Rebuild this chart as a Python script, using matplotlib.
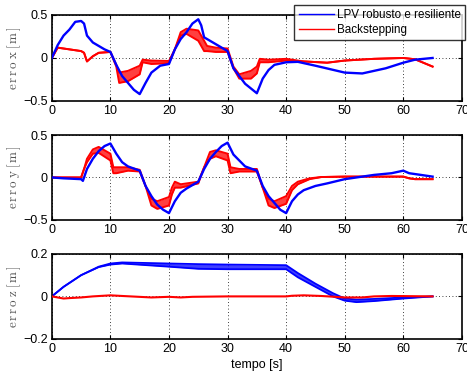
import matplotlib
matplotlib.use("Agg")
import matplotlib.pyplot as plt
import numpy as np

plt.rcParams['font.family'] = ['Liberation Sans', 'DejaVu Sans']
plt.rcParams['mathtext.fontset'] = 'cm'

# erro x
t_bx = [0, 1, 2, 3, 4, 5, 5.5, 6, 7, 8, 9, 10, 11, 12, 13, 14, 15, 16, 17, 18.5, 20,
        21, 22, 23, 24, 25, 25.5, 26, 27, 28, 30, 31, 33, 35, 36, 37, 38, 40, 42, 45,
        50, 53, 57, 60, 62, 65]
bx = [0, 0.15, 0.26, 0.33, 0.42, 0.43, 0.40, 0.26, 0.18, 0.14, 0.10, 0.07, -0.08, -0.21,
      -0.29, -0.37, -0.42, -0.29, -0.17, -0.09, -0.07, 0.10, 0.22, 0.30, 0.40, 0.45, 0.38,
      0.24, 0.20, 0.16, 0.08, -0.12, -0.30, -0.41, -0.24, -0.14, -0.08, -0.05, -0.045,
      -0.09, -0.17, -0.18, -0.12, -0.055, -0.02, 0.0]

t_rx = [0, 1, 3, 5, 5.5, 6, 7, 8, 10, 11, 11.5, 13, 15, 15.5, 17, 20, 21, 22, 23, 25,
        26, 26.5, 28, 30, 31, 32, 34, 35, 35.5, 37, 40, 43, 47, 50, 55, 60, 62, 65]
rx_hi = [0, 0.12, 0.10, 0.08, 0.06, -0.04, 0.02, 0.06, 0.07, -0.08, -0.17, -0.15, -0.09,
         -0.02, -0.03, -0.035, 0.10, 0.30, 0.34, 0.32, 0.20, 0.14, 0.12, 0.11, -0.10,
         -0.19, -0.15, -0.10, -0.01, -0.02, -0.01, -0.04, -0.055, -0.03, -0.01, 0.0,
         -0.015, -0.10]
rx_lo = [0, 0.12, 0.10, 0.08, 0.06, -0.04, 0.02, 0.06, 0.07, -0.10, -0.29, -0.27, -0.19,
         -0.05, -0.07, -0.06, 0.10, 0.26, 0.28, 0.20, 0.08, 0.08, 0.07, 0.07, -0.12,
         -0.24, -0.24, -0.18, -0.05, -0.05, -0.03, -0.04, -0.055, -0.03, -0.01, 0.0,
         -0.015, -0.10]

# erro y
t_by = [0, 2, 5, 5.3, 6, 7, 8, 9, 10, 11, 12, 13, 15, 16, 17, 18, 19, 20, 21, 22, 23, 25,
        26, 27, 28, 29, 30, 31, 32, 33, 35, 36, 37, 38, 39, 40, 41, 42, 43, 45, 47, 50,
        55, 58, 60, 61, 63, 65]
by = [0, -0.01, -0.02, -0.04, 0.10, 0.22, 0.31, 0.37, 0.40, 0.28, 0.18, 0.13, 0.08,
      -0.10, -0.22, -0.32, -0.38, -0.42, -0.28, -0.18, -0.13, -0.05, 0.10, 0.22, 0.30,
      0.37, 0.41, 0.27, 0.20, 0.13, 0.08, -0.10, -0.22, -0.30, -0.38, -0.42, -0.28,
      -0.20, -0.15, -0.10, -0.07, -0.02, 0.03, 0.05, 0.08, 0.05, 0.03, 0.01]

t_ry = [0, 5, 5.5, 6, 7, 8, 10, 10.5, 11, 13, 15, 16, 17, 18, 20, 20.5, 21, 22, 25,
        26, 27, 28, 30, 30.5, 32, 35, 36, 37, 38, 40, 41, 42, 44, 46, 50, 55, 60, 61,
        62, 65]
ry_hi = [0, 0, 0.10, 0.22, 0.33, 0.36, 0.28, 0.12, 0.12, 0.12, 0.09, -0.10, -0.25,
         -0.28, -0.23, -0.12, -0.05, -0.08, -0.05, 0.12, 0.30, 0.32, 0.28, 0.12, 0.10,
         0.10, -0.12, -0.25, -0.28, -0.22, -0.10, -0.05, -0.01, 0.005, 0.01, 0.01, 0.01,
         -0.01, -0.02, -0.02]
ry_lo = [0, 0, 0.10, 0.18, 0.28, 0.29, 0.20, 0.05, 0.05, 0.08, 0.07, -0.10, -0.33,
         -0.37, -0.33, -0.20, -0.12, -0.12, -0.07, 0.12, 0.22, 0.25, 0.20, 0.05, 0.07,
         0.07, -0.12, -0.33, -0.36, -0.31, -0.15, -0.08, -0.02, 0.005, 0.01, 0.01, 0.01,
         -0.01, -0.02, -0.02]

# erro z
t_bz = [0, 2, 5, 8, 10, 12, 20, 25, 30, 40, 42, 45, 48, 50, 52, 55, 60, 65]
bz_hi = [0, 0.045, 0.10, 0.14, 0.155, 0.16, 0.155, 0.152, 0.15, 0.147, 0.11, 0.06,
         0.015, -0.01, -0.015, -0.012, -0.005, 0.0]
bz_lo = [0, 0.045, 0.10, 0.138, 0.15, 0.155, 0.14, 0.13, 0.128, 0.128, 0.09, 0.045,
         0.0, -0.02, -0.027, -0.022, -0.01, 0.0]

t_rz = [0, 2, 3, 5, 7, 10, 12, 17, 20, 22, 24, 30, 40, 41, 43, 46, 50, 53, 55, 58, 65]
rz = [0, -0.01, -0.008, -0.005, 0.0, 0.005, 0.002, -0.005, -0.002, -0.005, -0.002, 0.0,
      0.0, 0.003, 0.005, 0.002, -0.005, -0.005, 0.0, 0.002, 0.0]

BLUE = (0, 0, 1)
RED = (1, 0, 0)
FS = 8.4

fig = plt.figure(figsize=(4.67, 3.74), dpi=100)
boxes = [[0.111, 0.730, 0.878, 0.230],
         [0.111, 0.412, 0.878, 0.227],
         [0.111, 0.094, 0.878, 0.227]]
axes = [fig.add_axes(b) for b in boxes]


def style(ax, lim, ticks, labels, ylabel):
    ax.set_xlim(0, 70)
    ax.set_ylim(*lim)
    ax.set_xticks(range(0, 71, 10))
    ax.set_yticks(ticks)
    ax.set_yticklabels(labels)
    ax.tick_params(direction='in', length=3, width=0.8, labelsize=FS + 0.6, pad=3,
                   top=True, right=True)
    ax.grid(True, linestyle=(0, (1, 3)), color='k', linewidth=0.6)
    for s in ax.spines.values():
        s.set_linewidth(1.2)
    ax.set_ylabel(ylabel, color='#555555', fontsize=FS + 1.0)
    ax.yaxis.set_label_coords(-0.07, 0.5)


def spaced(word):
    # letter-spaced roman label in mathtext
    parts = []
    for w in word.split(' '):
        parts.append(r'\,'.join(w))
    return r'$\mathrm{' + r'\;'.join(parts) + '}$'


ax = axes[0]
ax.plot(t_bx, bx, color=BLUE, lw=1.7, label='LPV robusto e resiliente', zorder=3)
ax.fill_between(t_rx, rx_lo, rx_hi, color=RED, alpha=0.75, lw=0, zorder=2)
ax.plot(t_rx, rx_hi, color=RED, lw=1.4, zorder=2, label='Backstepping')
ax.plot(t_rx, rx_lo, color=RED, lw=1.4, zorder=2)
style(ax, (-0.5, 0.5), [-0.5, 0, 0.5], ['\u22120.5', '0', '0.5'], spaced('erro x [m]'))
leg = ax.legend(loc='upper right', bbox_to_anchor=(1.008, 1.12), fontsize=FS,
                frameon=True, fancybox=False, handlelength=3.0,
                borderpad=0.35, labelspacing=0.25, borderaxespad=0, handletextpad=0.3)
leg.get_frame().set_edgecolor('k')
leg.get_frame().set_linewidth(1.0)
for ln in leg.get_lines():
    ln.set_linewidth(1.0)

ax = axes[1]
ax.plot(t_by, by, color=BLUE, lw=1.7, zorder=3)
ax.fill_between(t_ry, ry_lo, ry_hi, color=RED, alpha=0.75, lw=0, zorder=2)
ax.plot(t_ry, ry_hi, color=RED, lw=1.4, zorder=2)
ax.plot(t_ry, ry_lo, color=RED, lw=1.4, zorder=2)
style(ax, (-0.5, 0.5), [-0.5, 0, 0.5], ['\u22120.5', '0', '0.5'], spaced('erro y [m]'))

ax = axes[2]
ax.fill_between(t_bz, bz_lo, bz_hi, color=BLUE, alpha=0.75, lw=0, zorder=2)
ax.plot(t_bz, bz_hi, color=BLUE, lw=1.3, zorder=2)
ax.plot(t_bz, bz_lo, color=BLUE, lw=1.3, zorder=2)
ax.plot(t_rz, rz, color=RED, lw=1.5, zorder=3)
style(ax, (-0.2, 0.2), [-0.2, 0, 0.2], ['\u22120.2', '0', '0.2'], spaced('erro z [m]'))
ax.set_xlabel('tempo [s]', fontsize=FS + 0.6, labelpad=3)

fig.savefig('out.png', dpi=100)
